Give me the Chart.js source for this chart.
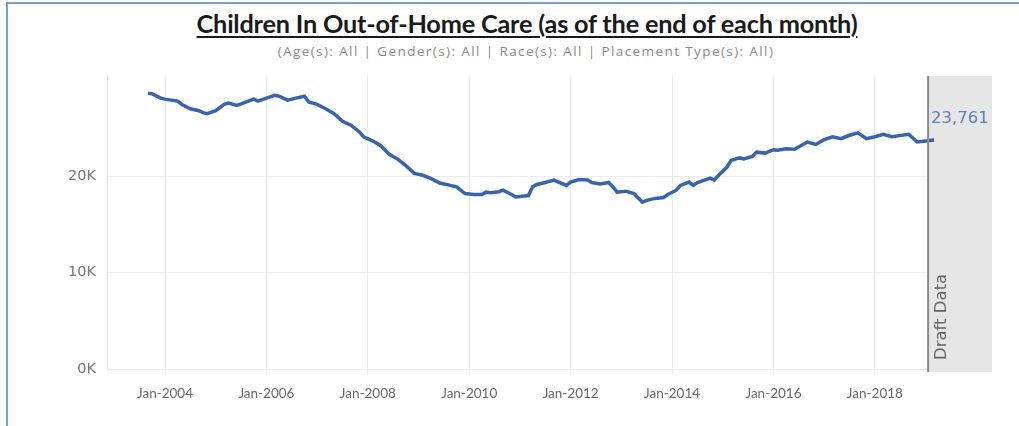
<!DOCTYPE html>
<html>
<head>
<meta charset="utf-8">
<script src="https://cdn.jsdelivr.net/npm/chart.js@4.4.0/dist/chart.umd.min.js"></script>
<style>
  html, body { margin: 0; padding: 0; background: #fff; }
  #wrap { position: relative; width: 1019px; height: 426px; overflow: hidden; }
  #frame { position: absolute; left: 6px; top: 2px; right: -2px; bottom: -2px;
           border-left: 2px solid #7a9ddb; border-top: 2px solid #7a9ddb; }
  #title { position: absolute; left: 0; width: 1054px; top: 8px; text-align: center;
           font-family: Lato, sans-serif; font-weight: bold; font-size: 25.3px; color: #1a1a1a;
           text-decoration: underline; text-underline-offset: 3px; letter-spacing: -0.2px; }
  #subtitle { position: absolute; left: 0; width: 1052px; top: 42px; text-align: center;
              font-family: "Open Sans", sans-serif; font-size: 13.5px; color: #8a8a8a;
              letter-spacing: 1.4px; }
  #chart { position: absolute; left: 0; top: 0; }
</style>
</head>
<body>
<div id="wrap">
  <div id="frame"></div>
  <div id="title">Children In Out-of-Home Care (as of the end of each month)</div>
  <div id="subtitle">(Age(s): All | Gender(s): All | Race(s): All | Placement Type(s): All)</div>
  <canvas id="chart" width="1019" height="426"></canvas>
</div>
<script>
// month of each reading (end of month)
const months = [
  '2003-09','2003-10','2003-12','2004-01','2004-04','2004-05','2004-07','2004-09','2004-10','2004-11',
  '2005-01','2005-03','2005-04','2005-06','2005-07','2005-10','2005-11','2006-01','2006-03','2006-04',
  '2006-06','2006-08','2006-10','2006-11','2007-01','2007-03','2007-05','2007-07','2007-09','2007-11',
  '2007-12','2008-02','2008-04','2008-06','2008-08','2008-10','2008-12','2009-02','2009-04','2009-06',
  '2009-08','2009-10','2009-12','2010-02','2010-04','2010-05','2010-06','2010-08','2010-09','2010-11',
  '2010-12','2011-02','2011-03','2011-04','2011-05','2011-07','2011-09','2011-12','2012-01','2012-03',
  '2012-05','2012-06','2012-08','2012-10','2012-11','2012-12','2013-02','2013-04','2013-05','2013-06',
  '2013-07','2013-09','2013-11','2013-12','2014-02','2014-03','2014-05','2014-06','2014-07','2014-08',
  '2014-10','2014-11','2014-12','2015-02','2015-03','2015-05','2015-06','2015-08','2015-09','2015-11',
  '2016-01','2016-02','2016-04','2016-06','2016-09','2016-11','2017-01','2017-03','2017-05','2017-07',
  '2017-09','2017-11','2018-01','2018-03','2018-05','2018-09','2018-11','2019-01','2019-03'
];

// children in care
const children = [
  28600, 28550, 28100, 28000, 27800, 27450, 27000, 26800, 26600, 26500,
  26800, 27450, 27600, 27350, 27500, 28000, 27800, 28100, 28400, 28300,
  27900, 28100, 28300, 27700, 27450, 27000, 26500, 25700, 25300, 24600,
  24100, 23700, 23200, 22300, 21800, 21100, 20300, 20100, 19750, 19300,
  19100, 18900, 18200, 18100, 18100, 18350, 18300, 18400, 18550, 18100,
  17850, 17950, 18000, 18900, 19150, 19350, 19600, 19050, 19400, 19650,
  19600, 19350, 19200, 19350, 18900, 18350, 18450, 18200, 17750, 17300,
  17500, 17700, 17800, 18100, 18550, 19050, 19400, 19050, 19350, 19500,
  19800, 19600, 20100, 20950, 21650, 21900, 21800, 22050, 22500, 22400,
  22750, 22700, 22850, 22800, 23550, 23300, 23800, 24100, 23900, 24250,
  24500, 23900, 24100, 24350, 24100, 24350, 23550, 23650, 23761
];

const xTickYears = [2004, 2006, 2008, 2010, 2012, 2014, 2016, 2018];
const yTicks = [0, 10000, 20000];
const draftStart = 2019.05;

const toYear = (s) => {
  const [y, m] = s.split('-').map(Number);
  return y + (m - 1) / 12;
};
const points = months.map((m, i) => ({ x: toYear(m), y: children[i] }));

// gray "Draft Data" band + last value label
const draftPlugin = {
  id: 'draft',
  beforeDatasetsDraw(chart) {
    const { ctx, chartArea, scales } = chart;
    const x0 = scales.x.getPixelForValue(draftStart);
    ctx.save();
    ctx.fillStyle = '#e6e6e6';
    ctx.fillRect(x0, chartArea.top, chartArea.right - x0, chartArea.bottom + 3 - chartArea.top);
    ctx.restore();
  },
  afterDatasetsDraw(chart) {
    const { ctx, chartArea, scales } = chart;
    const x0 = scales.x.getPixelForValue(draftStart);
    ctx.save();
    ctx.strokeStyle = '#8c8c8c';
    ctx.lineWidth = 2;
    ctx.beginPath();
    ctx.moveTo(x0, chartArea.top);
    ctx.lineTo(x0, chartArea.bottom + 3);
    ctx.stroke();

    ctx.translate(x0 + 14, chartArea.bottom - 9);
    ctx.rotate(-Math.PI / 2);
    ctx.fillStyle = '#666';
    ctx.font = '16.5px "DejaVu Sans", sans-serif';
    ctx.textAlign = 'left';
    ctx.textBaseline = 'middle';
    ctx.fillText('Draft Data', 0, 0);
    ctx.restore();

    const meta = chart.getDatasetMeta(0);
    const last = meta.data[meta.data.length - 1];
    ctx.save();
    ctx.fillStyle = '#5a82c4';
    ctx.font = '16.5px "DejaVu Sans", sans-serif';
    ctx.textAlign = 'left';
    ctx.textBaseline = 'middle';
    ctx.fillText(children[children.length - 1].toLocaleString('en-US'), last.x - 3, last.y - 21);
    ctx.restore();
  }
};

new Chart(document.getElementById('chart').getContext('2d'), {
  type: 'line',
  data: {
    datasets: [{
      data: points,
      borderColor: '#3a63ad',
      borderWidth: 3.5,
      pointRadius: 0,
      tension: 0,
      fill: false
    }]
  },
  options: {
    responsive: false,
    animation: false,
    layout: { padding: { top: 76, right: 27, bottom: 0, left: 0 } },
    plugins: { legend: { display: false }, tooltip: { enabled: false } },
    scales: {
      x: {
        type: 'linear',
        min: 2002.856,
        max: 2020.31,
        afterBuildTicks(scale) { scale.ticks = xTickYears.map(v => ({ value: v })); },
        afterFit(scale) { scale.height = 57; },
        grid: { color: '#ececec', drawTicks: true, tickLength: 5 },
        border: { display: false },
        ticks: {
          color: '#6a6a6a',
          font: { family: 'Lato, sans-serif', size: 13.5 },
          padding: 12,
          maxRotation: 0,
          callback: (v) => 'Jan-' + v
        }
      },
      y: {
        min: 0,
        max: 30400,
        afterBuildTicks(scale) { scale.ticks = yTicks.map(v => ({ value: v })); },
        afterFit(scale) { scale.width = 107; },
        grid: { color: '#ececec', drawTicks: false },
        border: { display: true, color: '#e4e4e4' },
        ticks: {
          color: '#777',
          font: { family: '"DejaVu Sans", sans-serif', size: 14.5 },
          padding: 11,
          callback: (v) => (v / 1000) + 'K'
        }
      }
    }
  },
  plugins: [draftPlugin]
});
</script>
</body>
</html>
